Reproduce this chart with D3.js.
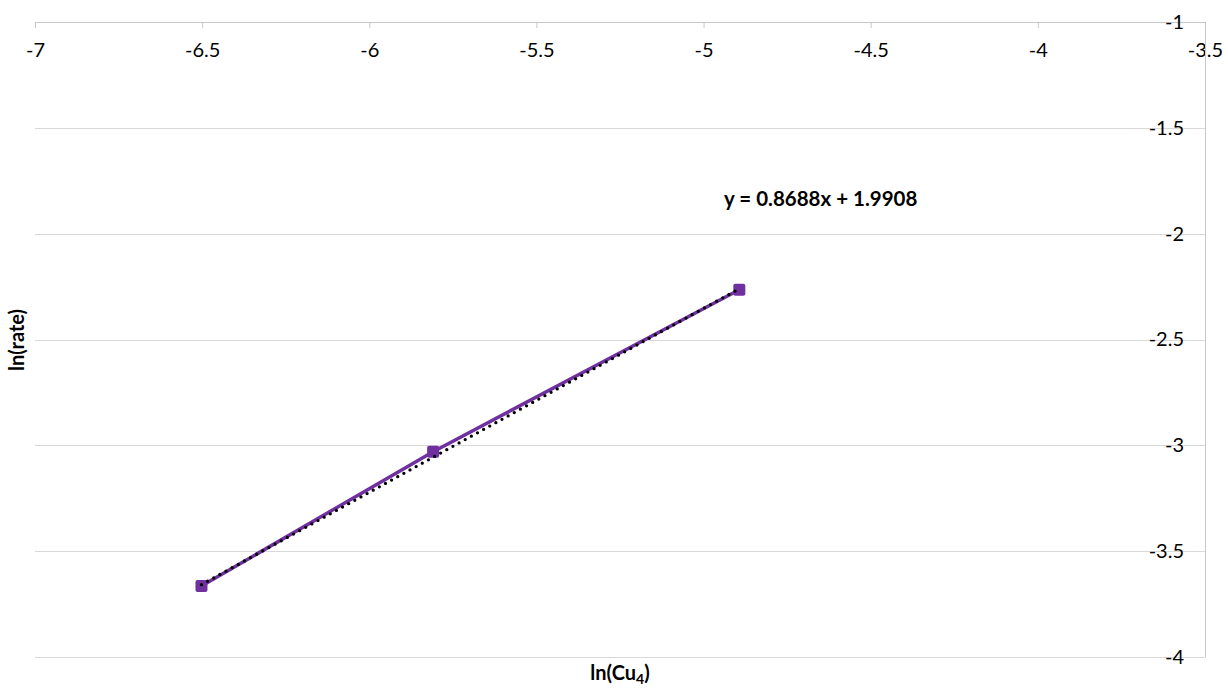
<!DOCTYPE html>
<html lang="en">
<head>
<meta charset="UTF-8" />
<title>ln(rate) vs ln(Cu4)</title>
<script src="https://d3js.org/d3.v7.min.js"></script>
<style>
  body { margin: 0; background: #fff; }
  text { font-family: Lato, "Open Sans", sans-serif; fill: #000; }
</style>
</head>
<body>
<script>
    // data
    var lnCu = [-6.502, -5.809, -4.893];
    var lnRate = [-3.665, -3.03, -2.265];
    var xTicks = [-7, -6.5, -6, -5.5, -5, -4.5, -4, -3.5];
    var yTicks = [-1, -1.5, -2, -2.5, -3, -3.5, -4];
    var slope = 0.8688, intercept = 1.9908;

    var w = 1228, h = 688;
    var padL = 35, padR = 1205, padT = 22, padB = 657;

    var xScale = d3.scaleLinear().domain([-7, -3.5]).range([padL, padR]);
    var yScale = d3.scaleLinear().domain([-1, -4]).range([padT, padB]);

    var svg = d3.select("body").append("svg")
        .attr("width", w).attr("height", h);

    // horizontal gridlines
    svg.append("g").selectAll("line")
        .data(yTicks)
        .enter().append("line")
        .attr("x1", padL).attr("x2", padR)
        .attr("y1", function (d) { return Math.round(yScale(d)) + 0.5; })
        .attr("y2", function (d) { return Math.round(yScale(d)) + 0.5; })
        .attr("stroke", "#d9d9d9").attr("stroke-width", 1);

    // x axis along top
    var xAxis = d3.axisBottom(xScale).tickValues(xTicks).tickSize(6).tickPadding(15)
        .tickFormat(function (d) { return d; });
    var gx = svg.append("g").attr("class", "x axis")
        .attr("transform", "translate(0," + padT + ")")
        .call(xAxis);
    gx.select(".domain").attr("stroke", "#c8c8c8");
    gx.selectAll(".tick line").attr("stroke", "#c8c8c8");
    gx.selectAll("text").style("font-size", "20px").attr("fill", "#000")
        .style("font-family", "Lato, sans-serif");

    // y axis on right, labels to the left of it
    var yAxis = d3.axisLeft(yScale).tickValues(yTicks).tickSize(0).tickPadding(21)
        .tickFormat(function (d) { return d; });
    var gy = svg.append("g").attr("class", "y axis")
        .attr("transform", "translate(" + padR + ",0)")
        .call(yAxis);
    gy.select(".domain").attr("stroke", "#c8c8c8");
    gy.selectAll("text").style("font-size", "20px").attr("fill", "#000")
        .style("font-family", "Lato, sans-serif");

    var pts = lnCu.map(function (d, i) { return [d, lnRate[i]]; });

    // series line
    var line = d3.line()
        .x(function (d) { return xScale(d[0]); })
        .y(function (d) { return yScale(d[1]); });

    svg.append("path").datum(pts)
        .attr("d", line)
        .attr("fill", "none")
        .attr("stroke", "#7030a0")
        .attr("stroke-width", 3.5);

    // markers
    svg.selectAll("rect.mk")
        .data(pts)
        .enter().append("rect")
        .attr("class", "mk")
        .attr("x", function (d) { return xScale(d[0]) - 6; })
        .attr("y", function (d) { return yScale(d[1]) - 6; })
        .attr("width", 12).attr("height", 12)
        .attr("rx", 2)
        .attr("fill", "#7030a0");

    // linear trendline (dotted)
    var xMin = d3.min(lnCu), xMax = d3.max(lnCu);
    var trend = [[xMin, slope * xMin + intercept], [xMax, slope * xMax + intercept]];
    svg.append("path").datum(trend)
        .attr("d", line)
        .attr("fill", "none")
        .attr("stroke", "#000")
        .attr("stroke-width", 3.3)
        .attr("stroke-linecap", "round")
        .attr("stroke-dasharray", "0 7");

    // equation
    svg.append("text")
        .attr("x", 724).attr("y", 206)
        .style("font-size", "20.5px").style("font-weight", "bold")
        .text("y = 0.8688x + 1.9908");

    // axis titles
    var xt = svg.append("text")
        .attr("x", 620).attr("y", 680)
        .attr("text-anchor", "middle")
        .style("font-size", "20px").style("font-weight", "bold");
    xt.append("tspan").text("ln(Cu");
    xt.append("tspan").text("4").attr("dy", 4).style("font-size", "14px");
    xt.append("tspan").text(")").attr("dy", -4);

    svg.append("text")
        .attr("transform", "translate(24,340) rotate(-90)")
        .attr("text-anchor", "middle")
        .style("font-size", "20px").style("font-weight", "bold")
        .text("ln(rate)");
</script>
</body>
</html>
